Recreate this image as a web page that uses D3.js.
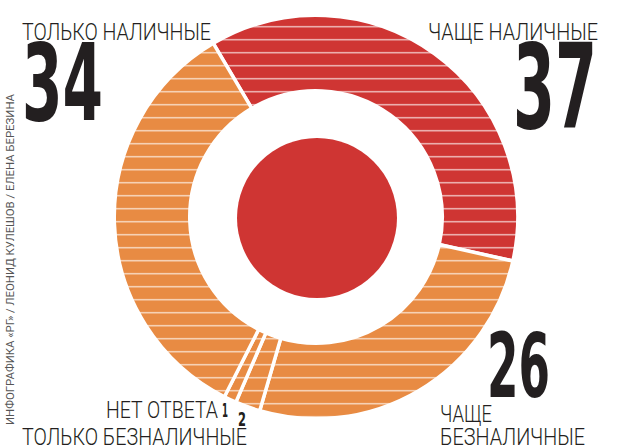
<!DOCTYPE html>
<html>
<head>
<meta charset="utf-8">
<script src="https://cdn.jsdelivr.net/npm/d3@7/dist/d3.min.js"></script>
<style>
  html, body { margin: 0; padding: 0; background: #fff; }
  svg { display: block; }
</style>
</head>
<body>
<div id="chart"></div>
<script>
// answers, clockwise from the top-left boundary
const categories = ["ЧАЩЕ НАЛИЧНЫЕ", "ЧАЩЕ БЕЗНАЛИЧНЫЕ", "ТОЛЬКО БЕЗНАЛИЧНЫЕ", "НЕТ ОТВЕТА", "ТОЛЬКО НАЛИЧНЫЕ"];
const values = [37, 26, 2, 1, 34];
const groups = ["cash", "card", "card", "card", "card"];
const credit = "ИНФОГРАФИКА «РГ» / ЛЕОНИД КУЛЕШОВ / ЕЛЕНА БЕРЕЗИНА";

const width = 622, height = 445;
const cx = 316, cy = 217;
const outerR = 200, innerR = 128, coreR = 80;
const sepW = 3.5;
const startAngle = -30.6 * Math.PI / 180;

const color = d3.scaleOrdinal()
    .domain(["cash", "card"])
    .range(["#cf3533", "#e88b43"]);

const svg = d3.select("#chart").append("svg")
    .attr("width", width)
    .attr("height", height);

// striped fills
const defs = svg.append("defs");
color.domain().forEach(k => {
    const p = defs.append("pattern")
        .attr("id", "stripe-" + k)
        .attr("patternUnits", "userSpaceOnUse")
        .attr("width", 20)
        .attr("height", 13);
    p.append("rect").attr("width", 20).attr("height", 13).attr("fill", color(k));
    p.append("rect").attr("y", 3.9).attr("width", 20).attr("height", 1.6)
        .attr("fill", "rgba(255,255,255,0.6)");
});

const pie = d3.pie()
    .sort(null)
    .value(d => d)
    .startAngle(startAngle)
    .endAngle(startAngle + 2 * Math.PI);

const arc = d3.arc()
    .innerRadius(innerR - sepW / 2)
    .outerRadius(outerR + sepW / 2);

const g = svg.append("g").attr("transform", `translate(${cx},${cy})`);

g.selectAll("path.slice")
    .data(pie(values))
    .join("path")
    .attr("class", "slice")
    .attr("d", arc)
    .attr("fill", (d, i) => `url(#stripe-${groups[i]})`)
    .attr("stroke", "#fff")
    .attr("stroke-width", sepW)
    .attr("stroke-linejoin", "miter");

g.append("circle")
    .attr("cx", 1)
    .attr("cy", 1)
    .attr("r", coreR)
    .attr("fill", color("cash"));

// labels
const light = "'Roboto', 'Liberation Sans Narrow', sans-serif";
const heavy = "'Liberation Sans Narrow', 'DejaVu Sans Condensed', 'Roboto', sans-serif";

function label(txt, x, y, size, len, opts = {}) {
    return svg.append("text")
        .attr("x", x)
        .attr("y", y)
        .attr("text-anchor", opts.anchor || "start")
        .attr("textLength", len)
        .attr("lengthAdjust", "spacingAndGlyphs")
        .style("font-family", opts.bold ? heavy : light)
        .style("font-weight", opts.bold ? 700 : 300)
        .style("font-size", size + "px")
        .attr("fill", "#231f20")
        .text(txt);
}

const byName = Object.fromEntries(categories.map((c, i) => [c, values[i]]));

label(categories[4], 22, 40, 23, 189);
label(byName["ТОЛЬКО НАЛИЧНЫЕ"], 22, 120, 107, 81, {bold: true});

label(categories[0], 598, 40, 23, 170, {anchor: "end"});
label(byName["ЧАЩЕ НАЛИЧНЫЕ"], 597, 128, 118, 84, {anchor: "end", bold: true});

label(byName["ЧАЩЕ БЕЗНАЛИЧНЫЕ"], 487, 397, 89, 63, {bold: true});
label("ЧАЩЕ", 440, 422, 23, 52);
label("БЕЗНАЛИЧНЫЕ", 440, 445, 23, 145);

label(categories[3], 106, 418, 23, 112);
label(byName["НЕТ ОТВЕТА"], 222, 417, 19, 6, {bold: true});
label(byName["ТОЛЬКО БЕЗНАЛИЧНЫЕ"], 238, 426, 19, 8, {bold: true});
label(categories[2], 22, 445, 23, 225);

svg.append("text")
    .attr("transform", "translate(14,425) rotate(-90)")
    .attr("textLength", 331)
    .attr("lengthAdjust", "spacingAndGlyphs")
    .style("font-family", light)
    .style("font-size", "10.5px")
    .attr("fill", "#555")
    .text(credit);
</script>
</body>
</html>
